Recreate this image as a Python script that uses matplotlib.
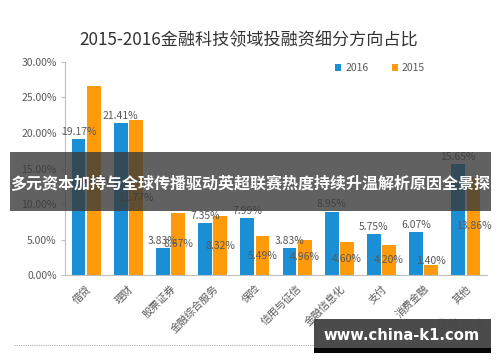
import matplotlib
matplotlib.use("Agg")
import matplotlib.pyplot as plt
import numpy as np
from matplotlib.patches import Rectangle

plt.rcParams['font.family'] = ['Noto Sans CJK SC', 'DejaVu Sans']

categories = ["借贷", "理财", "股票证券", "金融综合服务", "保险", "信用与征信",
              "金融信息化", "支付", "消费金融", "其他"]
v2016 = [19.17, 21.41, 3.83, 7.35, 7.99, 3.83, 8.95, 5.75, 6.07, 15.65]
v2015 = [26.60, 21.77, 8.67, 8.32, 5.49, 4.96, 4.60, 4.20, 1.40, 13.86]
yticks = [0, 5, 10, 15, 20, 25, 30]

blue = "#1a8fd6"
orange = "#ff9a0a"
gray_txt = "#595959"

fig = plt.figure(figsize=(5, 3.62), dpi=100)
ax = fig.add_axes([0.13, 0.240, 0.844, 0.589])
x = np.arange(len(categories))
w = 0.33
ax.bar(x - 0.18, v2016, width=w, color=blue, label="2016", zorder=2)
ax.bar(x + 0.18, v2015, width=w, color=orange, label="2015", zorder=2)

for xi, v in zip(x, v2016):
    ax.text(xi - 0.18, v + 1.0, f"{v:.2f}%", ha="center", va="center",
            fontsize=7.5, color=gray_txt, zorder=3)
for xi, v in zip(x, v2015):
    ax.text(xi + 0.18, max(v / 2, 1.95), f"{v:.2f}%", ha="center", va="center",
            fontsize=7.5, color=gray_txt, zorder=3)

ax.set_xlim(-0.5, 9.5)
ax.set_ylim(0, 30)
ax.set_yticks(yticks)
ax.set_yticklabels([f"{t:.2f}%" for t in yticks], fontsize=7.5, color=gray_txt)
ax.set_xticks(x)
ax.set_xticklabels(categories, rotation=45, ha="right", rotation_mode="anchor",
                   fontsize=7.5, color=gray_txt)
ax.tick_params(axis="x", length=0, pad=6)
ax.tick_params(axis="y", length=3, color="#bfbfbf", pad=3)
for s in ["top", "right"]:
    ax.spines[s].set_visible(False)
ax.spines["left"].set_color("#bfbfbf")
ax.spines["bottom"].set_color("#bfbfbf")

leg = fig.legend(loc="center", bbox_to_anchor=(0.76, 0.812), ncol=2, frameon=False,
                 fontsize=7.5, handlelength=0.6, handleheight=0.6, columnspacing=2.2,
                 handletextpad=0.4)
for t in leg.get_texts():
    t.set_color(gray_txt)

fig.text(0.497, 0.888, "2015-2016金融科技领域投融资细分方向占比", ha="center", va="center",
         fontsize=12.3, color="#333333")

# banner overlay
fig.patches.append(Rectangle((10 / 500, 1 - 211 / 362), 481 / 500, 59 / 362,
                             transform=fig.transFigure, facecolor="#3a3a3a",
                             alpha=0.8, zorder=5))
fig.text(0.5, 1 - 184 / 362, "多元资本加持与全球传播驱动英超联赛热度持续升温解析原因全景探",
         ha="center", va="center", fontsize=11.5, color="white", fontweight="bold",
         zorder=6)

# dotted line
fig.add_artist(plt.Line2D([14 / 500, 490 / 500], [1 - 345 / 362, 1 - 345 / 362],
                          transform=fig.transFigure, color="#aaaaaa", lw=0.8,
                          linestyle=(0, (1, 1)), zorder=1))
fig.text(0.92, 1 - 325 / 362, "华峰资本", ha="center", va="center", fontsize=9,
         color="#cccccc", zorder=1)

# bottom watermark
fig.patches.append(Rectangle((314 / 500, 1 - 353 / 362), 177 / 500, 34 / 362,
                             transform=fig.transFigure, facecolor="#3c3c3c",
                             alpha=0.92, zorder=5))
fig.patches.append(Rectangle((314 / 500, 1 - 353 / 362), 177 / 500, 5 / 362,
                             transform=fig.transFigure, facecolor="#050505",
                             zorder=5))
fig.text(402 / 500, 1 - 336 / 362, "www.china-k1.com", ha="center", va="center",
         fontsize=10.6, color="white", fontweight="bold", family="DejaVu Sans", zorder=6)

fig.savefig("out.png", dpi=100)
